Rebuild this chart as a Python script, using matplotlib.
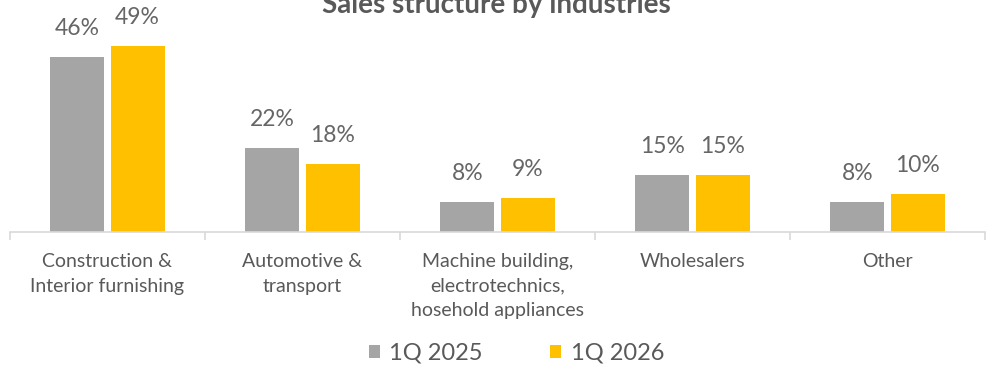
import matplotlib.pyplot as plt
import numpy as np

categories = ['Construction &\nInterior furnishing', 'Automotive &\ntransport',
              'Machine building,\nelectrotechnics,\nhosehold appliances',
              'Wholesalers', 'Other']
q1_2025 = [46, 22, 8, 15, 8]
q1_2026 = [49, 18, 9, 15, 10]
series_names = ['1Q 2025', '1Q 2026']

plt.rcParams['font.family'] = ['Lato', 'DejaVu Sans']

grey = '#A5A5A5'
gold = '#FFC000'
txt = '#595959'

fig = plt.figure(figsize=(9.93, 3.66), dpi=100)
ax = fig.add_axes([10/993, 134/366, 975/993, 222/366])

x = np.arange(len(categories))
w = 0.277
off = 0.154
b1 = ax.bar(x - off, q1_2025, w, color=grey, label=series_names[0])
b2 = ax.bar(x + off, q1_2026, w, color=gold, label=series_names[1])

for bars, vals in ((b1, q1_2025), (b2, q1_2026)):
    for b, v in zip(bars, vals):
        ax.annotate(f'{v}%', (b.get_x() + b.get_width() / 2, v),
                    xytext=(0, 13), textcoords='offset points',
                    ha='center', va='bottom', fontsize=16.5, color='#666666')

ax.set_xlim(-0.5, len(categories) - 0.5)
ax.set_ylim(0, 58.4)
ax.set_yticks([])
for s in ['top', 'right', 'left']:
    ax.spines[s].set_visible(False)
ax.spines['bottom'].set_color('#D9D9D9')
ax.spines['bottom'].set_linewidth(1.2)

ax.set_xticks(x)
ax.set_xticklabels(categories, fontsize=14, color=txt, linespacing=1.55)
ax.tick_params(axis='x', length=0, pad=15)
ax.set_xticks(np.arange(-0.5, len(categories)), minor=True)
ax.tick_params(axis='x', which='minor', length=6, color='#D9D9D9', width=1.2)

fig.text(0.5, 1 - 13/366, 'Sales structure by industries', ha='center', va='baseline',
         fontsize=20, fontweight='bold', color=txt)

fig.legend(handles=[b1, b2], labels=series_names, loc='center', bbox_to_anchor=(0.52, 1 - 353/366),
           ncol=2, frameon=False, fontsize=17, labelcolor=txt, handlelength=0.47, handleheight=0.47,
           handletextpad=0.4, columnspacing=2.85)

fig.savefig('out.png', dpi=100)
